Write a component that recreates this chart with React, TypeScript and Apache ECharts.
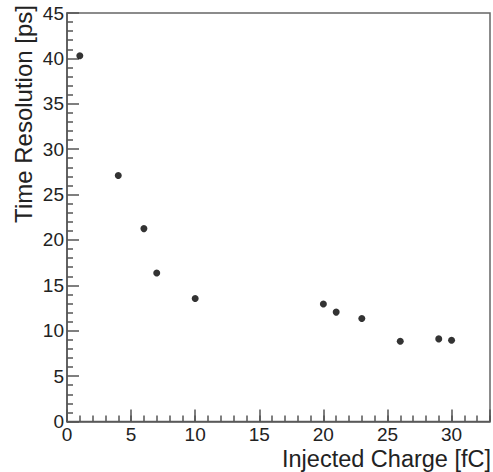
import React, { useEffect, useRef } from "react";
import * as echarts from "echarts";

const chargeFC = [1, 4, 6, 7, 10, 20, 21, 23, 26, 29, 30];
const resolutionPs = [40.3, 27.1, 21.25, 16.35, 13.55, 12.95, 12.05, 11.35, 8.85, 9.1, 8.95];
const xTitle = "Injected Charge [fC]";
const yTitle = "Time Resolution [ps]";

export default function App() {
  const ref = useRef<HTMLDivElement>(null);
  useEffect(() => {
    if (!ref.current) return;
    const chart = echarts.init(ref.current, undefined, { renderer: "svg" });
    const axisColor = "#555";
    const labelStyle = { color: "#222", fontSize: 19, fontFamily: "Liberation Sans, Arial, sans-serif" };
    chart.setOption({
      animation: false,
      backgroundColor: "#fff",
      grid: {
        left: 67,
        right: 2,
        top: 13,
        bottom: 50.5,
        show: true,
        borderColor: "#666",
        borderWidth: 1.5,
        backgroundColor: "transparent",
      },
      xAxis: [
        {
          type: "value",
          min: 0,
          max: 33,
          interval: 5,
          position: "bottom",
          axisLine: { show: true, onZero: false, lineStyle: { color: axisColor, width: 1.5 } },
          axisTick: { show: true, inside: true, length: 12, lineStyle: { color: axisColor, width: 1.5 } },
          minorTick: { show: false },
          splitLine: { show: false },
          axisLabel: {
            ...labelStyle,
            margin: 3,
            formatter: (v: number) => (v % 5 === 0 ? String(v) : ""),
          },
        },
        {
          type: "value",
          min: 0,
          max: 33,
          interval: 1,
          position: "bottom",
          axisLine: { show: false, onZero: false },
          axisTick: { show: true, inside: true, length: 6, lineStyle: { color: axisColor, width: 1.5 } },
          splitLine: { show: false },
          axisLabel: { show: false },
        },
      ],
      yAxis: {
        type: "value",
        min: 0,
        max: 45,
        interval: 5,
        axisLine: { show: true, onZero: false, lineStyle: { color: axisColor, width: 1.5 } },
        axisTick: { show: true, inside: true, length: 12, lineStyle: { color: axisColor, width: 1.5 } },
        minorTick: { show: true, splitNumber: 5, length: 6, lineStyle: { color: axisColor, width: 1.5 } },
        splitLine: { show: false },
        minorSplitLine: { show: false },
        axisLabel: { ...labelStyle, margin: 3 },
      },
      series: [
        {
          type: "scatter",
          xAxisIndex: 0,
          data: chargeFC.map((c, i) => [c, resolutionPs[i]]),
          symbol: "circle",
          symbolSize: 7,
          itemStyle: { color: "#000" },
        },
      ],
      graphic: [
        {
          type: "text",
          x: 491,
          y: 471,
          style: {
            text: xTitle,
            font: "23.5px 'Liberation Sans', Arial, sans-serif",
            fill: "#222",
            textAlign: "right",
            textVerticalAlign: "bottom",
          },
        },
        {
          type: "text",
          x: 35,
          y: 5,
          rotation: Math.PI / 2,
          style: {
            text: yTitle,
            font: "24px 'Liberation Sans', Arial, sans-serif",
            fill: "#222",
            textAlign: "right",
            textVerticalAlign: "bottom",
          },
        },
      ],
    });
    return () => chart.dispose();
  }, []);
  return <div ref={ref} style={{ position: "fixed", left: 0, top: 0, width: 493, height: 472 }} />;
}
